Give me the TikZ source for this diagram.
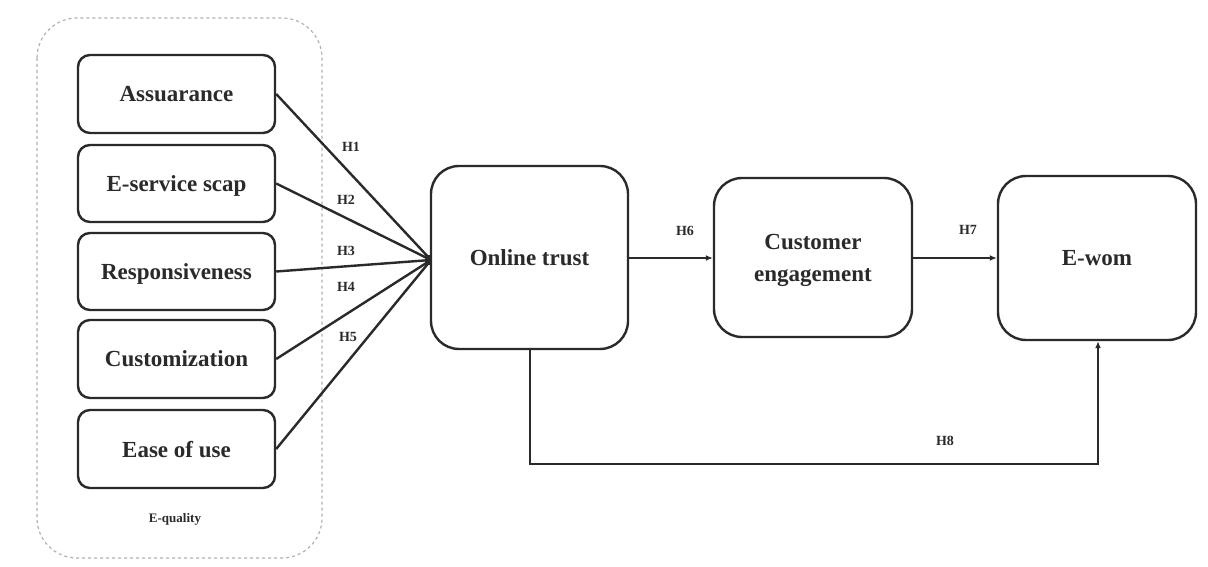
\documentclass[tikz,border=0pt]{standalone}
\usepackage{fontspec}
\setmainfont{Liberation Serif}
\usetikzlibrary{arrows.meta}
\definecolor{ink}{HTML}{2A2A2A}
\tikzset{
  x=1pt, y=-1pt,
  box/.style={draw=ink, line width=2.4pt, rounded corners=12pt, inner sep=0pt, font=\bfseries\fontsize{23}{32}\selectfont, text=ink, align=center, text depth=0pt},
  bigbox/.style={box, rounded corners=28pt},
  conn/.style={draw=ink, line width=2.4pt},
  hlab/.style={font=\bfseries\fontsize{14}{15}\selectfont, text=ink, inner sep=0pt},
  tip/.style={-{Latex[length=7pt,width=6pt]}}
}
\begin{document}
\begin{tikzpicture}
\useasboundingbox (0,0) rectangle (1208,567);
\fill[white] (0,0) rectangle (1208,567);
% container
\draw[gray!60, dashed, line width=1.2pt, rounded corners=40pt] (37,18) rectangle (322,558);
\node[font=\bfseries\fontsize{13}{14}\selectfont, text=ink] (eq) at (175,519) {E-quality};
% left boxes
\node[box, minimum width=197pt, minimum height=78pt] (a) at (176.5,94) {Assuarance};
\node[box, minimum width=197pt, minimum height=77pt] (b) at (176.5,183.5) {E-service scap};
\node[box, minimum width=197pt, minimum height=77pt] (c) at (176.5,271.5) {Responsiveness};
\node[box, minimum width=197pt, minimum height=78pt] (d) at (176.5,359) {Customization};
\node[box, minimum width=197pt, minimum height=78pt] (e) at (176.5,449) {Ease of use};
% main boxes
\node[bigbox, minimum width=197pt, minimum height=183pt] (ot) at (529.5,257.5) {Online trust};
\node[bigbox, minimum width=198pt, minimum height=159pt] (ce) at (813,257.5) {Customer\\engagement};
\node[bigbox, minimum width=198pt, minimum height=164pt] (ew) at (1097,258) {E-wom};
\coordinate (hub) at (431,260);
% fan-in
\draw[conn] (a.east) -- (hub);
\draw[conn] (b.east) -- (hub);
\draw[conn] (c.east) -- (hub);
\draw[conn] (d.east) -- (hub);
\draw[conn] (e.east) -- (hub);
\fill[ink] (425,255) rectangle (432,265);
\node[hlab] (h1) at (351,147) {H1};
\node[hlab] (h2) at (346,200) {H2};
\node[hlab] (h3) at (346,251) {H3};
\node[hlab] (h4) at (346,287) {H4};
\node[hlab] (h5) at (348,337) {H5};
% chain
\draw[conn, tip] (ot.east |- 0,258) -- (ce.west |- 0,258);
\draw[conn, tip] (ce.east |- 0,258) -- (ew.west |- 0,258);
\node[hlab] (h6) at (685,231) {H6};
\node[hlab] (h7) at (968,230) {H7};
\coordinate (c1) at (530,464);
\coordinate (c2) at (1098,464);
\draw[conn, tip] (ot.south -| c1) -- (c1) -- (c2) -- (ew.south -| c2);
\node[hlab] (h8) at (945,441) {H8};
\end{tikzpicture}
\end{document}
